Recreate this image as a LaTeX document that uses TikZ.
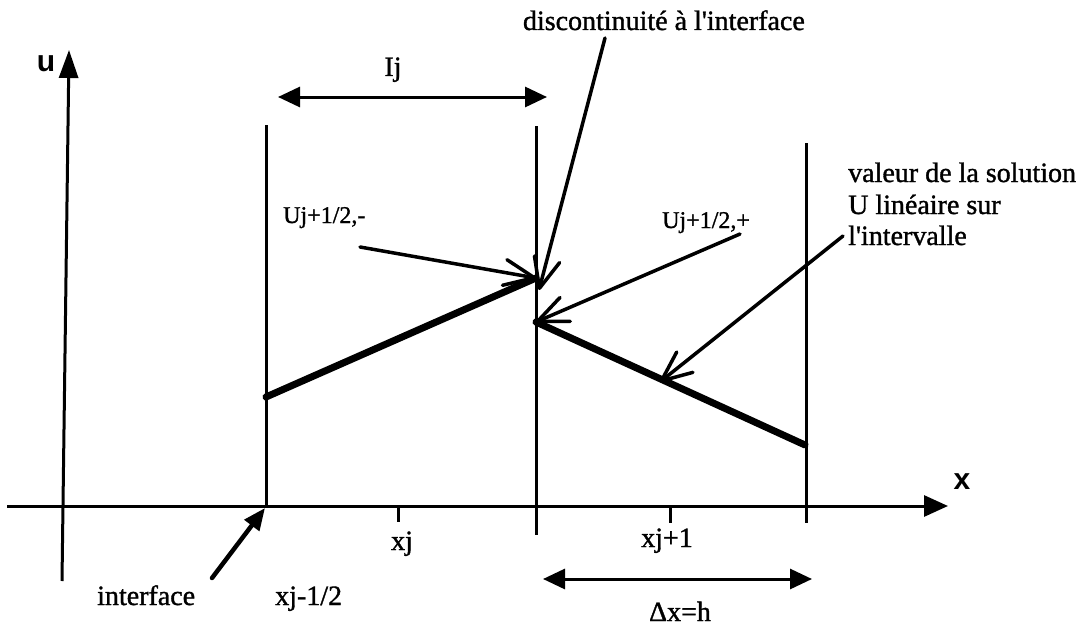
\documentclass[tikz,border=0pt]{standalone}
\usepackage{fontspec}
\setmainfont{Liberation Serif}[Ligatures=TeXOff,FakeBold=1.2]
\newfontfamily\axfont{Liberation Sans}[Ligatures=TeXOff]
\usetikzlibrary{arrows.meta}
\tikzset{
  axisline/.style={line width=3pt,-{Triangle[length=24pt,width=21pt]}},
  vline/.style={line width=3pt},
  tick/.style={line width=3pt},
  thickseg/.style={line width=7pt,line cap=round},
  pointer/.style={line width=3.5pt,line cap=round,-{Straight Barb[length=30pt,width=26pt,round]}},
  dimarrow/.style={line width=3pt,{Triangle[length=22pt,width=20pt]}-{Triangle[length=22pt,width=20pt]}},
  bigarrow/.style={line width=4.5pt,line cap=round,-{Triangle[length=22pt,width=18pt]}},
  lbl/.style={font=\fontsize{28}{32}\selectfont,inner sep=0pt},
  smalllbl/.style={font=\fontsize{24}{27}\selectfont,inner sep=0pt},
  axlbl/.style={font=\axfont\bfseries\fontsize{30}{34}\selectfont,inner sep=0pt}
}
\begin{document}
\begin{tikzpicture}[x=1pt,y=-1pt]
\useasboundingbox (0,0) rectangle (1082,626);
% coordinates
\coordinate (xs) at (7,506);
\coordinate (xe) at (948,506);
\coordinate (us) at (62,581);
\coordinate (ue) at (69,50);
\coordinate (L1t) at (266,125);
\coordinate (L1b) at (266,506);
\coordinate (L2t) at (536,126);
\coordinate (L2b) at (536,535);
\coordinate (L3t) at (806,143);
\coordinate (L3b) at (806,523);
\coordinate (T1t) at (398,506);
\coordinate (T1b) at (398,522);
\coordinate (T2t) at (670,506);
\coordinate (T2b) at (670,523);
\coordinate (A) at (266,397);
\coordinate (B) at (536,278);
\coordinate (C) at (536,322);
\coordinate (D) at (805,445);
\coordinate (M) at (660,382);
\coordinate (Dtip) at (539,290);
\coordinate (Ijl) at (278,97);
\coordinate (Ijr) at (547,97);
\coordinate (dxl) at (543,579);
\coordinate (dxr) at (812,579);
\coordinate (ifs) at (212,578);
\coordinate (ift) at (265,508);
% axes
\draw[axisline] (xs) -- (xe);
\draw[axisline,-{Triangle[length=28pt,width=19pt]}] (us) -- (ue);
% vertical lines and ticks
\draw[vline] (L1t) -- (L1b);
\draw[vline] (L2t) -- (L2b);
\draw[vline] (L3t) -- (L3b);
\draw[tick] (T1t) -- (T1b);
\draw[tick] (T2t) -- (T2b);
% solution segments
\draw[thickseg] (A) -- (B);
\draw[thickseg] (C) -- (D);
% labels
\node[axlbl,anchor=base] (ulab) at (46,72) {u};
\node[axlbl,anchor=base] (xlab) at (962,489) {x};
\node[lbl,anchor=base] (Ij) at (393,76) {Ij};
\node[lbl,anchor=base east] (disc) at (805,30) {discontinuité à l'interface};
\node[lbl,anchor=base west] (val1) at (848,182) {valeur de la solution};
\node[lbl,anchor=base west] (val2) at (848,214) {U linéaire sur};
\node[lbl,anchor=base west] (val3) at (848,245) {l'intervalle};
\node[smalllbl,anchor=base west] (Um) at (283,223) {Uj+1/2,-};
\node[smalllbl,anchor=base west] (Up) at (662,228) {Uj+1/2,+};
\node[lbl,anchor=base] (xj) at (402,550) {xj};
\node[lbl,anchor=base] (xj1) at (667,547) {xj+1};
\node[lbl,anchor=base west] (iface) at (97,605) {interface};
\node[lbl,anchor=base west] (xjm) at (275,605) {xj-1/2};
\node[lbl,anchor=base] (dx) at (680,621) {Δx=h};
% pointer arrows
\coordinate (UmS) at (360,247);
\coordinate (UpS) at (740,234);
\coordinate (valS) at (843,236);
\coordinate (discS) at (605,38);
\draw[pointer] (UmS) -- (B);
\draw[pointer] (UpS) -- (C);
\draw[pointer] (valS) -- (M);
\draw[pointer] (discS) -- (Dtip);
% dimension arrows
\draw[dimarrow] (Ijl) -- (Ijr);
\draw[dimarrow] (dxl) -- (dxr);
% interface arrow
\draw[bigarrow] (ifs) -- (ift);
\end{tikzpicture}
\end{document}
